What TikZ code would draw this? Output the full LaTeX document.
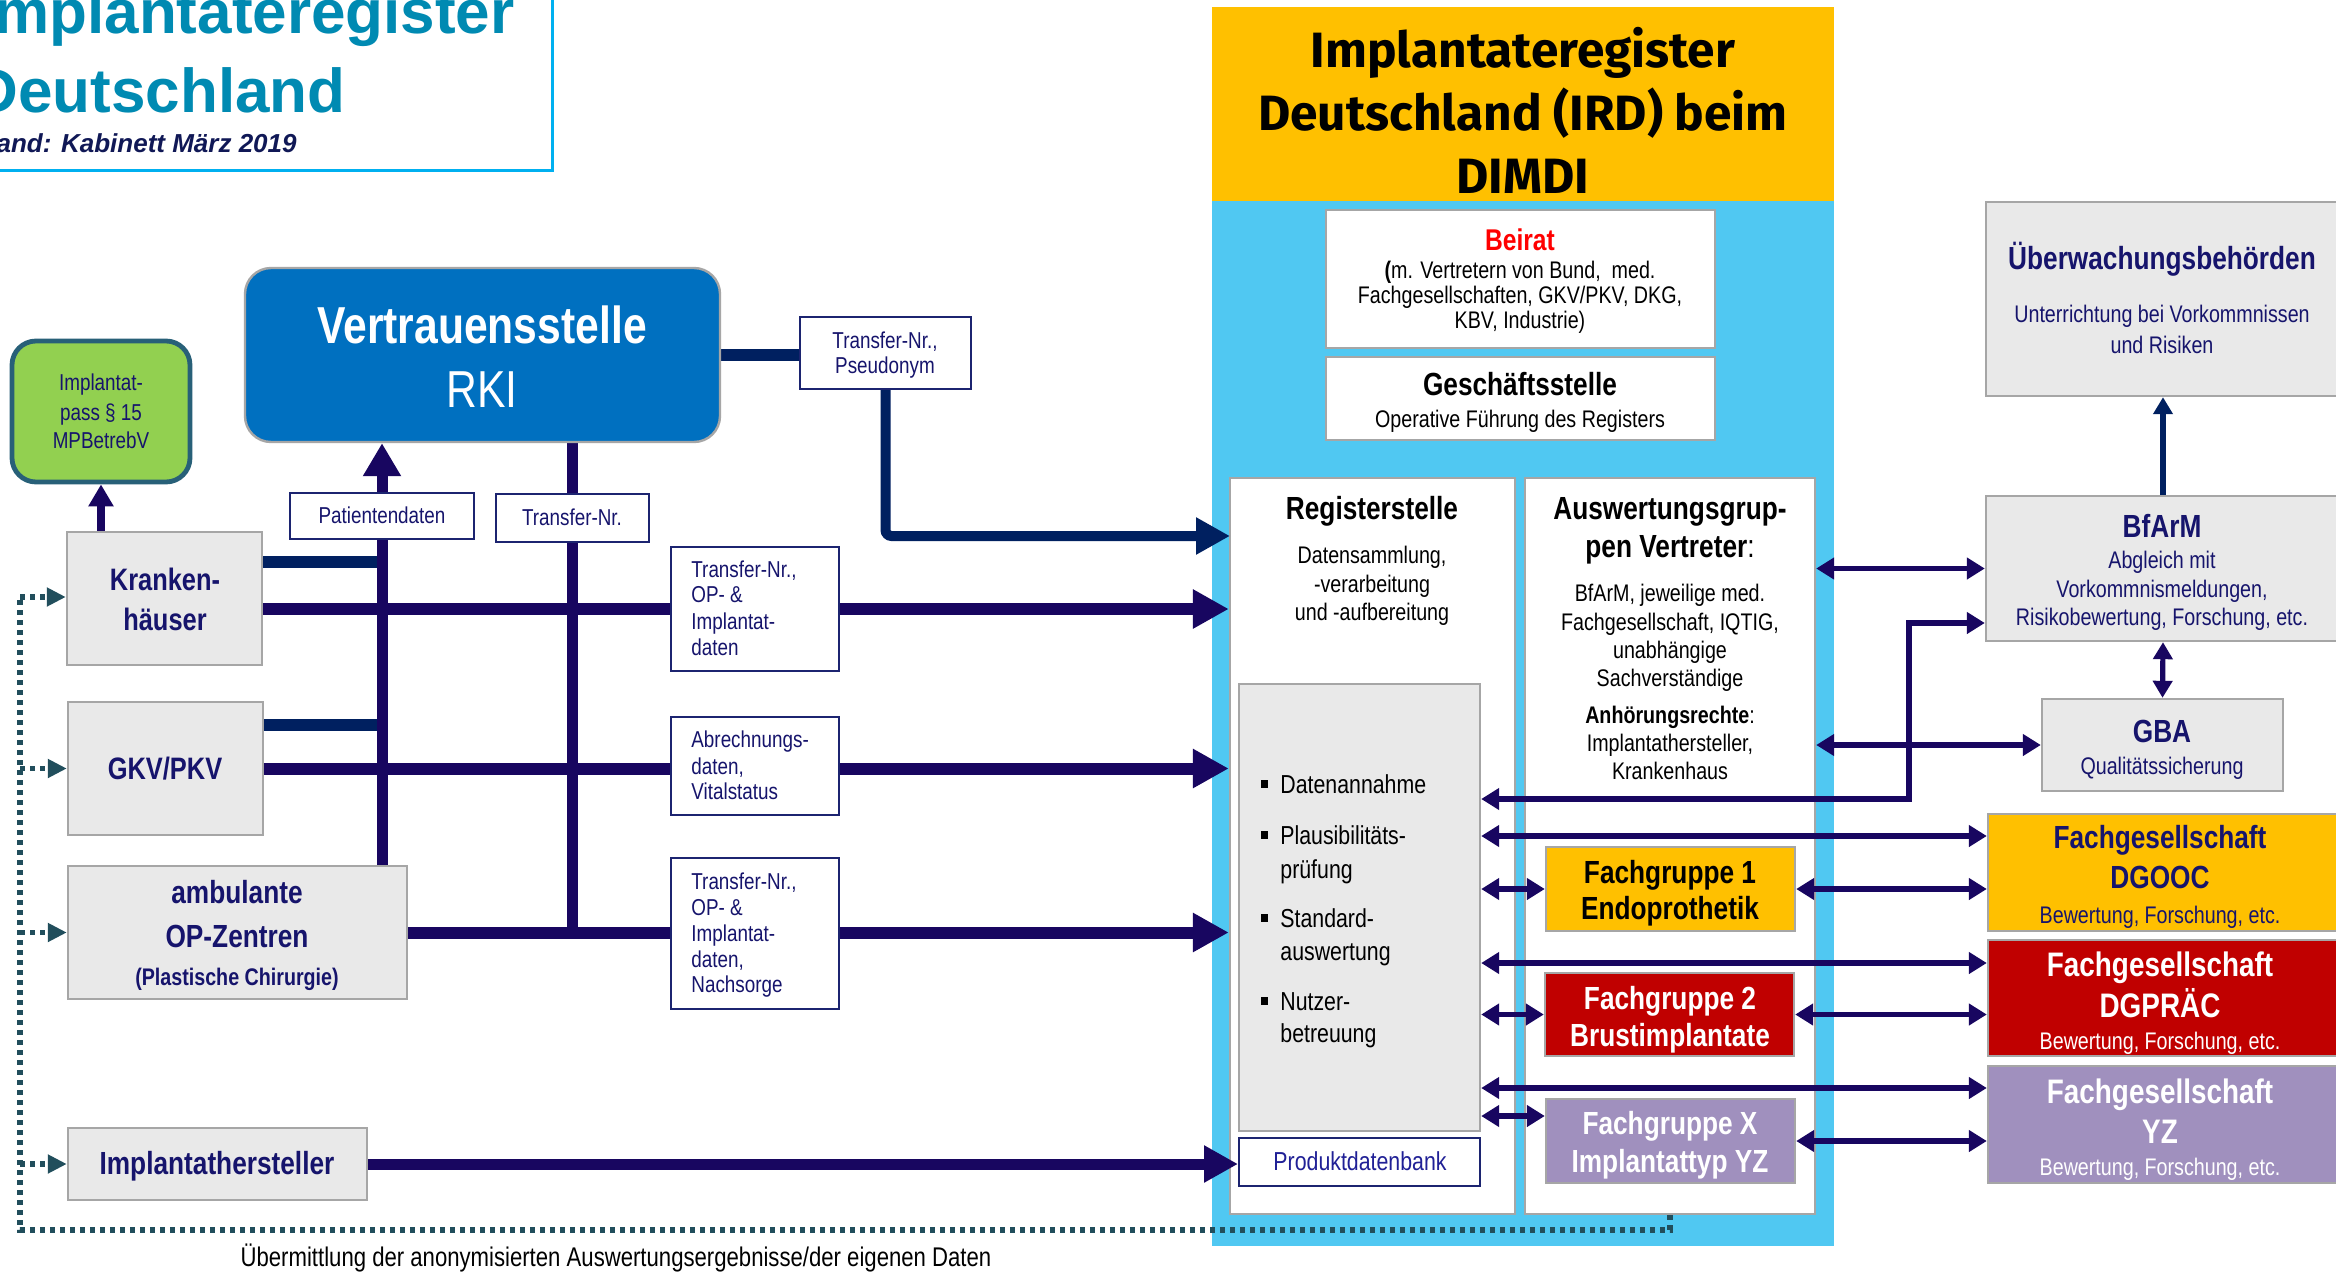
\documentclass[tikz,border=0pt]{standalone}
\usepackage{fontspec}
\setmainfont{Liberation Sans}
\newfontfamily\nar[FakeStretch=0.82]{Liberation Sans}
\newfontfamily\fira{Fira Sans}
\usetikzlibrary{arrows.meta,fit}
\pgfdeclarelayer{back}
\pgfdeclarelayer{conn}
\pgfsetlayers{back,conn,main}
\definecolor{titleteal}{RGB}{0,138,178}
\definecolor{standnavy}{RGB}{16,24,86}
\definecolor{irdyellow}{RGB}{255,192,0}
\definecolor{irdblue}{RGB}{80,200,242}
\definecolor{boxgray}{RGB}{233,233,233}
\definecolor{bordgray}{RGB}{166,166,166}
\definecolor{txtnavy}{RGB}{22,20,108}
\definecolor{lnc}{RGB}{24,6,96}
\definecolor{nvb}{RGB}{0,32,96}
\definecolor{rkiblue}{RGB}{0,112,192}
\definecolor{passgreen}{RGB}{146,208,80}
\definecolor{passbord}{RGB}{40,96,120}
\definecolor{dotc}{RGB}{33,78,92}
\definecolor{fgred}{RGB}{192,0,0}
\definecolor{fglav}{RGB}{160,144,190}
\definecolor{lblbord}{RGB}{28,36,112}
\definecolor{prodtxt}{RGB}{32,32,150}
\definecolor{titlebord}{RGB}{0,176,240}
\newcommand\myB[1]{\nar\bfseries\fontsize{#1}{#1}\selectfont}
\newcommand\myR[1]{\nar\fontsize{#1}{#1}\selectfont}
\newcommand\Tx[4][]{\node[txt,#1] (#2) at (#3) {#4};}
\tikzset{
  txt/.style={inner sep=0pt, anchor=base},
  gbox/.style={draw=bordgray, fill=boxgray, line width=1.2pt, inner sep=0pt},
  wbox/.style={draw=bordgray, fill=white, line width=1.2pt, inner sep=0pt},
  lbox/.style={draw=lblbord, fill=white, line width=1pt, inner sep=0pt},
  cbox/.style={draw=bordgray, line width=1.2pt, inner sep=0pt},
  tk/.style={line width=6pt, draw=lnc, -{Triangle[length=18pt,width=18.5pt]}},
  tkl/.style={line width=5.5pt, draw=lnc},
  nvl/.style={line width=6pt, draw=nvb},
  nva/.style={line width=5pt, draw=nvb, -{Triangle[length=17pt,width=17.5pt]}},
  dba/.style={line width=2.8pt, draw=lnc, {Triangle[length=9pt,width=10.5pt]}-{Triangle[length=9pt,width=10.5pt]}},
  dotl/.style={line width=2.6pt, draw=dotc, dash pattern=on 2.5pt off 2.5pt},
  dota/.style={dotl, -{Triangle[length=9.5pt,width=9pt]}},
}
\begin{document}
\begin{tikzpicture}[x=0.5pt,y=-0.5pt]
\useasboundingbox (0,0) rectangle (2336,1274);
\begin{pgfonlayer}{back}
\fill[white] (0,0) rectangle (2336,1274);
\node[fill=irdyellow, inner sep=0pt, fit={(1212,7)(1834,201)}] (irdhead) {};
\node[fill=irdblue, inner sep=0pt, fit={(1212,201)(1834,1246)}] (irdpanel) {};
\node[wbox, fit={(1230,478)(1515,1214)}] (reg) {};
\node[wbox, fit={(1525,478)(1815,1214)}] (aus) {};
\Tx[font=\myB{16}]{r1}{1372,519}{Registerstelle}
\Tx[font=\myR{12}]{r2}{1372,563}{Datensammlung,}
\Tx[font=\myR{12}]{r3}{1372,592}{-verarbeitung}
\Tx[font=\myR{12}]{r4}{1372,620}{und -aufbereitung}
\Tx[font=\myB{16}]{a1}{1670,519}{Auswertungsgrup-}
\Tx[font=\myB{16}]{a2}{1670,557}{pen Vertreter{\mdseries :}}
\Tx[font=\myR{12}]{a3}{1670,601}{BfArM, jeweilige med.}
\Tx[font=\myR{12}]{a4}{1670,630}{Fachgesellschaft, IQTIG,}
\Tx[font=\myR{12}]{a5}{1670,658}{unabhängige}
\Tx[font=\myR{12}]{a6}{1670,686}{Sachverständige}
\Tx[font=\myR{12}]{a7}{1670,723}{\textbf{Anhörungsrechte}:}
\Tx[font=\myR{12}]{a8}{1670,751}{Implantathersteller,}
\Tx[font=\myR{12}]{a9}{1670,779}{Krankenhaus}
\end{pgfonlayer}

% title box top left
\node[draw=titlebord, line width=1.5pt, inner sep=0pt, fit={(-20,-20)(552,170)}] (titlebox) {};
\Tx[anchor=base east, font=\bfseries\fontsize{31}{31}\selectfont, text=titleteal]{tl1}{515,33}{Implantateregister}
\Tx[anchor=base east, font=\bfseries\fontsize{31}{31}\selectfont, text=titleteal]{tl2}{346,112}{Deutschland}
\Tx[anchor=base east, font=\bfseries\itshape\fontsize{13}{13}\selectfont, text=standnavy]{tl3}{297,152}{Stand: Kabinett März 2019}

% IRD header
\Tx[font=\fira\bfseries\fontsize{24.8}{24.8}\selectfont]{ird1}{1523,67}{Implantateregister}
\Tx[font=\fira\bfseries\fontsize{24.8}{24.8}\selectfont]{ird2}{1523,130}{Deutschland (IRD) beim}
\Tx[font=\fira\bfseries\fontsize{24.8}{24.8}\selectfont]{ird3}{1523,193}{DIMDI}

% Beirat, Geschaeftsstelle
\node[wbox, fit={(1326,210)(1715,348)}] (beirat) {};
\Tx[font=\myB{15}, text=red]{b1}{1520,250}{Beirat}
\Tx[font=\myR{12}]{b2}{1520,278}{\textbf{(}m. Vertretern von Bund,\ \ med.}
\Tx[font=\myR{12}]{b3}{1520,303}{Fachgesellschaften, GKV/PKV, DKG,}
\Tx[font=\myR{12}]{b4}{1520,328}{KBV, Industrie)}
\node[wbox, fit={(1326,357)(1715,440)}] (gs) {};
\Tx[font=\myB{16}]{g1}{1520,395}{Geschäftsstelle}
\Tx[font=\myR{12}]{g2}{1520,427}{Operative Führung des Registers}

% Registerstelle inner
\node[gbox, fit={(1239,684)(1480,1131)}] (dat) {};
\fill (1261,780) rectangle (1268,788);
\fill (1261,831) rectangle (1268,839);
\fill (1261,914) rectangle (1268,922);
\fill (1261,997) rectangle (1268,1005);
\Tx[anchor=base west, font=\myR{13}]{d1}{1280,793}{Datenannahme}
\Tx[anchor=base west, font=\myR{13}]{d2}{1280,844}{Plausibilitäts-}
\Tx[anchor=base west, font=\myR{13}]{d3}{1280,878}{prüfung}
\Tx[anchor=base west, font=\myR{13}]{d4}{1280,927}{Standard-}
\Tx[anchor=base west, font=\myR{13}]{d5}{1280,960}{auswertung}
\Tx[anchor=base west, font=\myR{13}]{d6}{1280,1010}{Nutzer-}
\Tx[anchor=base west, font=\myR{13}]{d7}{1280,1042}{betreuung}
\node[lbox, fit={(1239,1138)(1480,1186)}] (prod) {};
\Tx[font=\myR{13}, text=prodtxt]{pr1}{1360,1170}{Produktdatenbank}

% Fachgruppen
\node[cbox, fill=irdyellow, fit={(1546,847)(1795,931)}] (fg1) {};
\Tx[font=\myB{16}]{f11}{1670,883}{Fachgruppe 1}
\Tx[font=\myB{16}]{f12}{1670,919}{Endoprothetik}
\node[cbox, fill=fgred, fit={(1545,973)(1794,1056)}] (fg2) {};
\Tx[font=\myB{16}, text=white]{f21}{1670,1009}{Fachgruppe 2}
\Tx[font=\myB{16}, text=white]{f22}{1670,1046}{Brustimplantate}
\node[cbox, fill=fglav, fit={(1546,1099)(1795,1183)}] (fgx) {};
\Tx[font=\myB{16}, text=white]{fx1}{1670,1134}{Fachgruppe X}
\Tx[font=\myB{16}, text=white]{fx2}{1670,1172}{Implantattyp YZ}

% right column
\node[gbox, fit={(1986,202)(2340,396)}] (ueb) {};
\Tx[font=\myB{16}, text=txtnavy]{u1}{2162,269}{Überwachungsbehörden}
\Tx[font=\myR{12}, text=txtnavy]{u2}{2162,322}{Unterrichtung bei Vorkommnissen}
\Tx[font=\myR{12}, text=txtnavy]{u3}{2162,353}{und Risiken}
\node[gbox, fit={(1986,496)(2340,641)}] (bfarm) {};
\Tx[font=\myB{16}, text=txtnavy]{bf1}{2162,537}{BfArM}
\Tx[font=\myR{12}, text=txtnavy]{bf2}{2162,568}{Abgleich mit}
\Tx[font=\myR{12}, text=txtnavy]{bf3}{2162,597}{Vorkommnismeldungen,}
\Tx[font=\myR{12}, text=txtnavy]{bf4}{2162,625}{Risikobewertung, Forschung, etc.}
\node[gbox, fit={(2042,699)(2283,791)}] (gba) {};
\Tx[font=\myB{16}, text=txtnavy]{gb1}{2162,742}{GBA}
\Tx[font=\myR{12}, text=txtnavy]{gb2}{2162,774}{Qualitätssicherung}
\node[cbox, fill=irdyellow, fit={(1988,814)(2340,931)}] (dgooc) {};
\Tx[font=\myB{16}, text=txtnavy]{o1}{2160,848}{Fachgesellschaft}
\Tx[font=\myB{16}, text=txtnavy]{o2}{2160,888}{DGOOC}
\Tx[font=\myR{12}, text=txtnavy]{o3}{2160,923}{Bewertung, Forschung, etc.}
\node[cbox, fill=fgred, fit={(1988,940)(2340,1056)}] (dgp) {};
\Tx[font=\myB{17}, text=white]{p1}{2160,976}{Fachgesellschaft}
\Tx[font=\myB{17}, text=white]{p2}{2160,1017}{DGPRÄC}
\Tx[font=\myR{12}, text=white]{p3}{2160,1049}{Bewertung, Forschung, etc.}
\node[cbox, fill=fglav, fit={(1988,1066)(2340,1183)}] (yz) {};
\Tx[font=\myB{17}, text=white]{y1}{2160,1103}{Fachgesellschaft}
\Tx[font=\myB{17}, text=white]{y2}{2160,1143}{YZ}
\Tx[font=\myR{12}, text=white]{y3}{2160,1175}{Bewertung, Forschung, etc.}

% left column
\node[draw=passbord, fill=passgreen, line width=2.4pt, rounded corners=12pt, inner sep=0pt, fit={(12,341)(190,482)}] (pass) {};
\Tx[font=\myR{11.5}, text=txtnavy]{ps1}{101,390}{Implantat-}
\Tx[font=\myR{11.5}, text=txtnavy]{ps2}{101,420}{pass § 15}
\Tx[font=\myR{11.5}, text=txtnavy]{ps3}{101,448}{MPBetrebV}
\node[draw=bordgray, fill=rkiblue, line width=1.2pt, rounded corners=13pt, inner sep=0pt, fit={(245,268)(720,442)}] (rki) {};
\Tx[font=\myB{26}, text=white]{rk1}{482,343}{Vertrauensstelle}
\Tx[font=\myR{26}, text=white]{rk2}{482,407}{RKI}
\node[gbox, fit={(67,532)(262,665)}] (kh) {};
\Tx[font=\myB{15.5}, text=txtnavy]{kh1}{165,590}{Kranken-}
\Tx[font=\myB{15.5}, text=txtnavy]{kh2}{165,630}{häuser}
\node[gbox, fit={(68,702)(263,835)}] (gkv) {};
\Tx[font=\myB{15.5}, text=txtnavy]{gk1}{165,779}{GKV/PKV}
\node[gbox, fit={(68,866)(407,999)}] (amb) {};
\Tx[font=\myB{16}, text=txtnavy]{am1}{237,903}{ambulante}
\Tx[font=\myB{16}, text=txtnavy]{am2}{237,947}{OP-Zentren}
\Tx[font=\myB{12}, text=txtnavy]{am3}{237,985}{(Plastische Chirurgie)}
\node[gbox, fit={(68,1128)(367,1200)}] (ih) {};
\Tx[font=\myB{16}, text=txtnavy]{ih1}{217,1174}{Implantathersteller}

% label boxes
\node[lbox, fit={(290,493)(474,539)}] (pat) {};
\Tx[font=\myR{11.5}, text=txtnavy]{pt1}{382,523}{Patientendaten}
\node[lbox, fit={(496,494)(649,542)}] (trn) {};
\Tx[font=\myR{11.5}, text=txtnavy]{tn1}{572,525}{Transfer-Nr.}
\node[lbox, fit={(800,317)(971,389)}] (pseud) {};
\Tx[font=\myR{11.5}, text=txtnavy]{pd1}{885,348}{Transfer-Nr.,}
\Tx[font=\myR{11.5}, text=txtnavy]{pd2}{885,373}{Pseudonym}
\node[lbox, fit={(671,547)(839,671)}] (tr1) {};
\Tx[anchor=base west, font=\myR{11.5}, text=txtnavy]{t11}{691,577}{Transfer-Nr.,}
\Tx[anchor=base west, font=\myR{11.5}, text=txtnavy]{t12}{691,602}{OP- \&}
\Tx[anchor=base west, font=\myR{11.5}, text=txtnavy]{t13}{691,629}{Implantat-}
\Tx[anchor=base west, font=\myR{11.5}, text=txtnavy]{t14}{691,655}{daten}
\node[lbox, fit={(671,717)(839,815)}] (tr2) {};
\Tx[anchor=base west, font=\myR{11.5}, text=txtnavy]{t21}{691,747}{Abrechnungs-}
\Tx[anchor=base west, font=\myR{11.5}, text=txtnavy]{t22}{691,774}{daten,}
\Tx[anchor=base west, font=\myR{11.5}, text=txtnavy]{t23}{691,799}{Vitalstatus}
\node[lbox, fit={(671,858)(839,1009)}] (tr3) {};
\Tx[anchor=base west, font=\myR{11.5}, text=txtnavy]{t31}{691,889}{Transfer-Nr.,}
\Tx[anchor=base west, font=\myR{11.5}, text=txtnavy]{t32}{691,915}{OP- \&}
\Tx[anchor=base west, font=\myR{11.5}, text=txtnavy]{t33}{691,941}{Implantat-}
\Tx[anchor=base west, font=\myR{11.5}, text=txtnavy]{t34}{691,967}{daten,}
\Tx[anchor=base west, font=\myR{11.5}, text=txtnavy]{t35}{691,992}{Nachsorge}

\Tx[font=\myR{13.5}]{bot}{616,1266}{Übermittlung der anonymisierten Auswertungsergebnisse/der eigenen Daten}

% coordinates
\coordinate (j1) at (383,562);
\coordinate (j3) at (383,725);
\coordinate (rin) at (1230,536);
\coordinate (k1) at (1909,799);
\coordinate (k2) at (1909,623);
\coordinate (yA) at (0,836);
\coordinate (yC) at (0,963);
\coordinate (yE) at (0,1088);
\coordinate (yF) at (0,1116);
\coordinate (db) at (20,1230);
\coordinate (dt) at (20,597);

\begin{pgfonlayer}{conn}
% left network
\draw[line width=4pt, draw=lnc, -{Triangle[length=11pt,width=12pt]}] (pass.south |- kh.north) -- (pass.south);
\draw[nvl] (rki.east) -- (rki.east -| pseud.west);
\draw[nva, rounded corners=3pt] (pseud.south) |- (rin);
\draw[nvl] (kh.east |- j1) -- (j1);
\draw[nvl] (gkv.east |- j3) -- (j3);
\draw[tkl, -{Triangle[length=16.5pt,width=18pt]}] (pat.center |- amb.north) -- (pat.center |- rki.south);
\draw[tkl] (trn.center |- rki.south) -- (trn.center |- amb.east);
\draw[tk] (kh.east |- tr1.center) -- (tr1.center -| reg.west);
\draw[tk] (gkv.east) -- (gkv.east -| reg.west);
\draw[tk] (amb.east) -- (amb.east -| reg.west);
\draw[tk, line width=5.5pt, -{Triangle[length=17pt,width=17.5pt]}] (ih.east) -- (ih.east -| prod.west);
% right network
\draw[dba] (bfarm.west -| aus.east) -- (bfarm.west);
\draw[dba] (gba.west -| aus.east) -- (gba.west);
\draw[dba] (dat.east |- k1) -- (k1) -- (k2) -- (k2 -| bfarm.west);
\draw[dba] (dat.east |- yA) -- (yA -| dgooc.west);
\draw[dba] (dat.east |- fg1.west) -- (fg1.west);
\draw[dba] (fg1.east) -- (fg1.east -| dgooc.west);
\draw[dba] (dat.east |- yC) -- (yC -| dgp.west);
\draw[dba] (dat.east |- fg2.west) -- (fg2.west);
\draw[dba] (fg2.east) -- (fg2.east -| dgp.west);
\draw[dba] (dat.east |- yE) -- (yE -| yz.west);
\draw[dba] (dat.east |- yF) -- (yF -| fgx.west);
\draw[dba] (fgx.east) -- (fgx.east -| yz.west);
\draw[line width=2.6pt, draw=nvb, -{Triangle[length=8.5pt,width=9.5pt]}] (bfarm.north) -- (ueb.south);
\draw[line width=2.6pt, draw=lnc, {Triangle[length=8.5pt,width=9.5pt]}-{Triangle[length=8.5pt,width=9.5pt]}] (bfarm.south) -- (gba.north);
% dotted feedback
\draw[dotl] (aus.south) -- (aus.south |- db) -- (db) -- (dt);
\draw[dota] (dt) -- (dt -| kh.west);
\draw[dota] (db |- gkv.west) -- (gkv.west);
\draw[dota] (db |- amb.west) -- (amb.west);
\draw[dota] (db |- ih.west) -- (ih.west);
\end{pgfonlayer}
\end{tikzpicture}
\end{document}
